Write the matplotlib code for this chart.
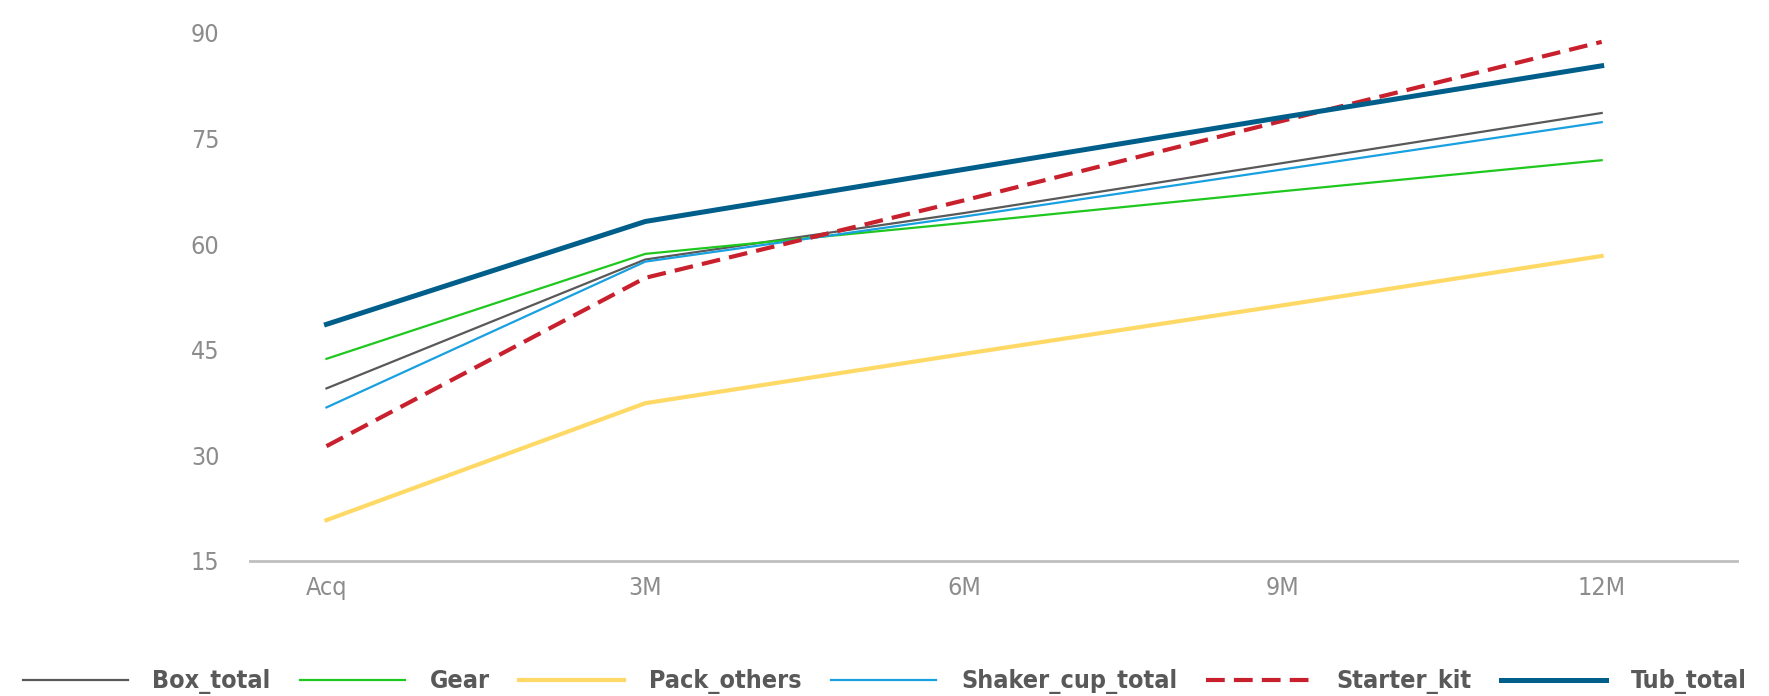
import matplotlib.pyplot as plt

plt.rcParams['font.family'] = ['Liberation Sans Narrow', 'DejaVu Sans']
plt.rcParams['font.stretch'] = 'condensed'

# periods and retention per product line
periods = ['Acq', '3M', '6M', '9M', '12M']
box_total = [39.5, 57.8, 64.4, 71.5, 78.6]
gear = [43.7, 58.6, 63.0, 67.5, 71.9]
pack_others = [20.8, 37.4, 44.4, 51.3, 58.3]
shaker_cup_total = [36.8, 57.5, 63.9, 70.6, 77.3]
starter_kit = [31.3, 55.2, 66.2, 77.5, 88.7]
tub_total = [48.6, 63.2, 70.6, 78.0, 85.3]

fig = plt.figure(figsize=(17.69, 6.96), dpi=100)
ax = fig.add_axes([0.1413, 0.194, 0.8407, 0.759])

x = range(len(periods))
ax.plot(x, box_total, color='#595959', lw=1.6, label='Box_total')
ax.plot(x, gear, color='#1ec81e', lw=1.6, label='Gear')
ax.plot(x, pack_others, color='#ffd966', lw=3.0, label='Pack_others')
ax.plot(x, shaker_cup_total, color='#18a0e0', lw=1.6, label='Shaker_cup_total')
ax.plot(x, starter_kit, color='#c8202c', lw=3.0, ls=(0, (4.5, 2.2)), label='Starter_kit')
ax.plot(x, tub_total, color='#005f8a', lw=3.6, label='Tub_total')

ax.set_xlim(-0.24, 4.425)
ax.set_ylim(15, 90)
ax.set_yticks([15, 30, 45, 60, 75, 90])
ax.set_xticks(list(x))
ax.set_xticklabels(periods)

for s in ['top', 'right', 'left']:
    ax.spines[s].set_visible(False)
ax.spines['bottom'].set_color('#bfbfbf')
ax.spines['bottom'].set_linewidth(2)
ax.tick_params(axis='both', length=0, labelsize=18, labelcolor='#8c8c8c')
ax.tick_params(axis='y', pad=22)
ax.tick_params(axis='x', pad=11)

leg = fig.legend(loc='lower left', bbox_to_anchor=(0.0, -0.03, 1.0, 0.06), mode='expand',
                 ncol=6, frameon=False, handlelength=4.2, handletextpad=1.0,
                 prop={'size': 18, 'weight': 'bold'})
for t in leg.get_texts():
    t.set_color('#595959')

fig.savefig('out.png', dpi=100)
